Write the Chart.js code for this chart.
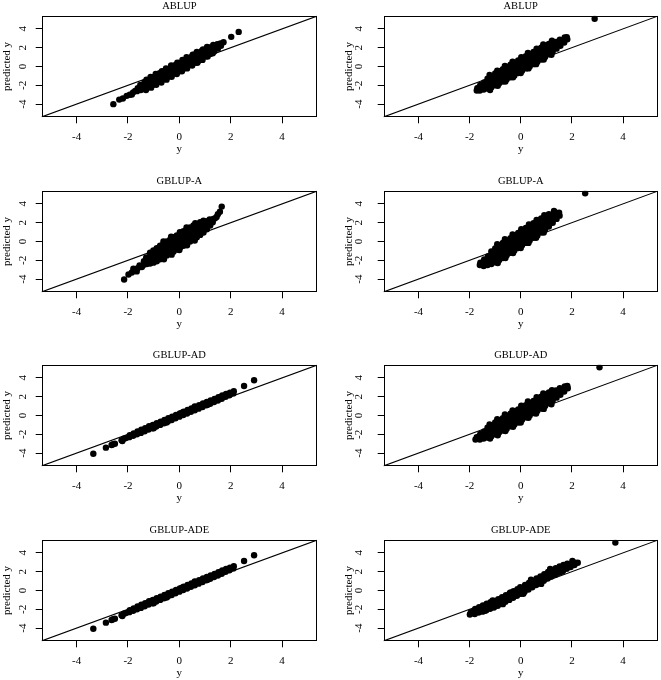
<!DOCTYPE html>
<html>
<head>
<meta charset="utf-8">
<script src="https://cdn.jsdelivr.net/npm/chart.js@4"></script>
<style>
  body { margin: 0; background: #fff; width: 661px; height: 680px; overflow: hidden; position: relative; }
  .panel { position: absolute; }
</style>
</head>
<body>
<script>
// panel titles, one per row (left and right column share them)
const titles = ['ABLUP', 'GBLUP-A', 'GBLUP-AD', 'GBLUP-ADE'];
const tickValues = [-4, -2, 0, 2, 4];
const xRange = [-5.36, 5.36];
const yRange = [-5.4, 5.4];
const refLine = [-6, 6];   // abline(0, 1)

// [y, predicted y]
const ablupLeft = [
  [-2.57,-4.0],[-2.34,-3.52],[-2.2,-3.4],[-2.05,-3.12],[-1.93,-3.0],[-1.8,-2.75],[-1.85,-2.98],[-1.72,-2.6],
  [-1.65,-2.62],[-1.62,-2.3],[-1.5,-2.5],[-1.48,-2.2],[-1.52,-1.95],[-1.35,-2.35],[-1.33,-2.0],[-1.36,-1.7],
  [-1.2,-2.18],[-1.22,-1.8],[-1.18,-1.42],[-1.05,-1.98],[-1.03,-1.55],[-1.07,-1.15],[-0.9,-1.78],[-0.92,-1.35],
  [-0.88,-0.95],[-0.75,-1.55],[-0.73,-1.12],[-0.77,-0.72],[-0.6,-1.35],[-0.62,-0.9],[-0.58,-0.5],[-0.45,-1.12],
  [-0.43,-0.7],[-0.47,-0.28],[-0.3,-0.9],[-0.32,-0.48],[-0.28,-0.05],[-0.15,-0.7],[-0.13,-0.25],[-0.17,0.15],
  [0,-0.5],[0.02,-0.05],[-0.02,0.38],[0.15,-0.25],[0.13,0.18],[0.17,0.6],[0.3,-0.05],[0.32,0.4],[0.28,0.8],
  [0.45,0.18],[0.43,0.62],[0.47,1.02],[0.6,0.4],[0.62,0.83],[0.58,1.25],[0.75,0.62],[0.73,1.05],[0.77,1.45],
  [0.9,0.85],[0.92,1.27],[0.88,1.68],[1.05,1.08],[1.03,1.48],[1.07,1.85],[1.2,1.32],[1.22,1.7],[1.18,2.02],
  [1.35,1.6],[1.37,1.92],[1.33,2.2],[1.5,1.9],[1.52,2.18],[1.48,2.38],[1.62,2.2],[1.6,2.45],
  [-1.3,-2.5],[-1.28,-1.4],[-1.1,-2.25],[-1.12,-1.1],[-0.9,-1.95],[-0.92,-0.8],[-0.7,-1.7],[-0.68,-0.5],
  [-0.5,-1.4],[-0.52,-0.2],[-0.3,-1.1],[-0.32,0.1],[-0.1,-0.8],[-0.08,0.4],[0.1,-0.5],[0.12,0.7],
  [0.3,-0.2],[0.28,0.98],[0.5,0.1],[0.52,1.25],[0.7,0.4],[0.68,1.55],[0.9,0.7],[0.92,1.82],
  [1.1,1.05],[1.08,2.08],[1.3,1.4],[1.32,2.3],
  [1.72,2.58],[2.02,3.15],[2.31,3.68]
];
const ablupRight = [
  [-1.72,-2.55],[-1.7,-2.3],[-1.6,-2.55],[-1.62,-2.2],[-1.58,-1.95],[-1.45,-2.45],[-1.47,-2.05],[-1.43,-1.7],
  [-1.3,-2.35],[-1.32,-1.95],[-1.28,-1.55],[-1.3,-1.3],[-1.15,-2.2],[-1.17,-1.8],[-1.13,-1.4],[-1.15,-1.05],
  [-1.0,-2.0],[-1.02,-1.6],[-0.98,-1.15],[-1.0,-0.75],[-0.85,-1.8],[-0.87,-1.35],[-0.83,-0.95],[-0.85,-0.5],
  [-0.7,-1.6],[-0.72,-1.15],[-0.68,-0.7],[-0.7,-0.3],[-0.55,-1.35],[-0.57,-0.9],[-0.53,-0.45],[-0.55,-0.05],
  [-0.4,-1.15],[-0.42,-0.7],[-0.38,-0.25],[-0.4,0.2],[-0.25,-0.95],[-0.27,-0.45],[-0.23,0.0],[-0.25,0.4],
  [-0.1,-0.7],[-0.12,-0.25],[-0.08,0.2],[-0.1,0.65],[0.05,-0.45],[0.03,0.0],[0.07,0.45],[0.05,0.9],
  [0.2,-0.2],[0.18,0.25],[0.22,0.7],[0.2,1.1],[0.35,0.0],[0.33,0.45],[0.37,0.9],[0.35,1.3],
  [0.5,0.25],[0.48,0.7],[0.52,1.15],[0.5,1.55],[0.65,0.5],[0.63,0.95],[0.67,1.4],[0.65,1.75],
  [0.8,0.75],[0.78,1.2],[0.82,1.6],[0.8,2.0],[0.95,1.0],[0.93,1.45],[0.97,1.85],[0.95,2.2],
  [1.1,1.3],[1.08,1.7],[1.12,2.1],[1.1,2.4],[1.25,1.6],[1.27,1.98],[1.23,2.35],[1.4,1.9],[1.42,2.25],[1.38,2.6],
  [1.55,2.2],[1.57,2.55],[1.53,2.85],[1.7,2.55],[1.68,2.85],[1.72,3.1],[1.82,2.9],[1.8,3.12],
  [-1.2,-2.5],[-1.22,-0.9],[-0.9,-2.05],[-0.92,-0.45],[-0.6,-1.6],[-0.62,0.05],[-0.3,-1.15],[-0.32,0.5],
  [0,-0.7],[0.02,1.0],[0.3,-0.2],[0.28,1.45],[0.6,0.25],[0.62,1.9],[0.9,0.75],[0.88,2.35],[1.2,1.25],[1.22,2.75],
  [2.89,5.07]
];
const gblupALeft = [
  [-2.15,-4.04],[-1.98,-3.5],[-1.85,-3.3],[-1.66,-3.18],[-1.79,-2.9],[-1.46,-2.72],[-1.55,-2.55],[-1.62,-2.85],
  [-1.4,-2.5],[-1.38,-2.1],[-1.27,-2.4],[-1.25,-2.05],[-1.29,-1.7],[-1.14,-2.35],[-1.16,-1.95],[-1.12,-1.5],[-1.14,-1.2],
  [-1.01,-2.25],[-1.03,-1.8],[-0.99,-1.35],[-1.01,-0.95],[-0.88,-2.1],[-0.9,-1.6],[-0.86,-1.15],[-0.88,-0.7],
  [-0.75,-1.9],[-0.77,-1.4],[-0.73,-0.95],[-0.75,-0.45],[-0.62,-1.7],[-0.64,-1.2],[-0.6,-0.7],[-0.62,-0.25],
  [-0.49,-1.5],[-0.51,-1.0],[-0.47,-0.5],[-0.49,0.0],[-0.36,-1.3],[-0.38,-0.8],[-0.34,-0.3],[-0.36,0.2],
  [-0.23,-1.1],[-0.25,-0.6],[-0.21,-0.1],[-0.23,0.45],[-0.1,-0.85],[-0.12,-0.35],[-0.08,0.15],[-0.1,0.65],
  [0.03,-0.65],[0.01,-0.15],[0.05,0.35],[0.03,0.9],[0.16,-0.45],[0.14,0.05],[0.18,0.55],[0.16,1.1],
  [0.29,-0.2],[0.27,0.3],[0.31,0.8],[0.29,1.3],[0.42,0.0],[0.4,0.5],[0.44,1.0],[0.42,1.5],
  [0.55,0.2],[0.53,0.7],[0.57,1.2],[0.55,1.7],[0.68,0.45],[0.66,0.95],[0.7,1.4],[0.68,1.85],
  [0.81,0.7],[0.79,1.15],[0.83,1.6],[0.81,2.05],[0.94,0.95],[0.92,1.4],[0.96,1.8],[0.94,2.2],
  [1.07,1.3],[1.05,1.75],[1.09,2.15],[1.2,1.7],[1.22,2.05],[1.18,2.35],[1.3,2.05],[1.32,2.4],
  [-0.6,-1.9],[-0.62,0.0],[-0.3,-1.4],[-0.32,0.5],[0,-0.9],[0.02,1.0],[0.3,-0.4],[0.28,1.5],[0.6,0.1],[0.62,1.95],
  [1.39,2.46],[1.45,2.6],[1.5,2.9],[1.58,3.17],[1.65,3.71]
];
const gblupARight = [
  [-1.6,-2.5],[-1.58,-2.25],[-1.45,-2.6],[-1.47,-2.2],[-1.43,-1.9],[-1.3,-2.5],[-1.32,-2.05],[-1.28,-1.6],
  [-1.15,-2.4],[-1.17,-1.9],[-1.13,-1.45],[-1.15,-1.05],[-1.0,-2.2],[-1.02,-1.7],[-0.98,-1.2],[-1.0,-0.75],
  [-0.85,-2.0],[-0.87,-1.45],[-0.83,-0.95],[-0.85,-0.45],[-0.7,-1.75],[-0.72,-1.2],[-0.68,-0.65],[-0.7,-0.15],
  [-0.55,-1.45],[-0.57,-0.95],[-0.53,-0.4],[-0.55,0.1],[-0.4,-1.2],[-0.42,-0.65],[-0.38,-0.15],[-0.4,0.35],
  [-0.25,-0.95],[-0.27,-0.4],[-0.23,0.15],[-0.25,0.65],[-0.1,-0.7],[-0.12,-0.15],[-0.08,0.4],[-0.1,0.9],
  [0.05,-0.4],[0.03,0.1],[0.07,0.65],[0.05,1.2],[0.2,-0.15],[0.18,0.4],[0.22,0.9],[0.2,1.45],
  [0.35,0.1],[0.33,0.65],[0.37,1.15],[0.35,1.7],[0.5,0.4],[0.48,0.9],[0.52,1.45],[0.5,1.95],
  [0.65,0.65],[0.63,1.15],[0.67,1.7],[0.65,2.2],[0.8,0.95],[0.78,1.45],[0.82,1.95],[0.8,2.45],
  [0.95,1.25],[0.93,1.75],[0.97,2.2],[0.95,2.65],[1.1,1.6],[1.08,2.05],[1.12,2.5],[1.1,2.9],
  [1.25,2.0],[1.27,2.45],[1.23,2.85],[1.3,3.25],[1.4,2.4],[1.42,2.75],[1.38,3.05],[1.52,2.75],[1.5,3.05],
  [-0.9,-2.28],[-0.92,-0.3],[-0.6,-1.75],[-0.62,0.25],[-0.3,-1.23],[-0.32,0.75],[0,-0.7],[0.02,1.3],
  [0.3,-0.15],[0.32,1.8],[0.6,0.4],[0.62,2.3],[0.9,0.95],[0.92,2.8],
  [2.52,5.12]
];
const gblupADLeft = [
  [-3.35,-4.06],[-2.86,-3.42],[-2.64,-3.13],[-2.51,-2.99],[-2.58,-3.05],[-2.25,-2.63],[-2.16,-2.46],[-2.22,-2.72],[-2.08,-2.4],
  [-1.95,-2.3],[-1.93,-2.1],[-1.8,-2.15],[-1.78,-1.9],[-1.65,-2.0],[-1.63,-1.7],[-1.5,-1.85],[-1.48,-1.52],
  [-1.35,-1.68],[-1.33,-1.35],[-1.2,-1.5],[-1.18,-1.15],[-1.05,-1.35],[-1.03,-1.0],[-0.9,-1.18],[-0.88,-0.82],
  [-0.75,-1.0],[-0.73,-0.65],[-0.6,-0.82],[-0.58,-0.48],[-0.45,-0.65],[-0.43,-0.3],[-0.3,-0.48],[-0.28,-0.12],
  [-0.15,-0.3],[-0.13,0.05],[0,-0.12],[0.02,0.22],[0.15,0.05],[0.17,0.4],[0.3,0.22],[0.32,0.58],
  [0.45,0.4],[0.47,0.75],[0.6,0.56],[0.62,0.92],[0.75,0.73],[0.77,1.1],[0.9,0.9],[0.92,1.27],
  [1.05,1.08],[1.07,1.44],[1.2,1.25],[1.22,1.6],[1.35,1.43],[1.37,1.77],[1.5,1.6],[1.52,1.95],
  [1.65,1.78],[1.67,2.12],[1.8,1.98],[1.82,2.28],[1.95,2.15],[1.97,2.42],[2.1,2.35],[2.12,2.58],
  [-1.0,-1.35],[-0.5,-0.75],[0.1,0.3],[0.6,0.95],[1.1,1.15],[1.6,1.95],
  [2.52,3.13],[2.91,3.74]
];
const gblupADRight = [
  [-1.77,-2.55],[-1.72,-2.3],[-1.6,-2.55],[-1.62,-2.2],[-1.58,-1.95],[-1.45,-2.45],[-1.47,-2.05],[-1.43,-1.7],
  [-1.3,-2.35],[-1.32,-1.95],[-1.28,-1.55],[-1.3,-1.3],[-1.15,-2.2],[-1.17,-1.8],[-1.13,-1.4],[-1.15,-1.05],
  [-1.0,-2.0],[-1.02,-1.6],[-0.98,-1.15],[-1.0,-0.75],[-0.85,-1.8],[-0.87,-1.35],[-0.83,-0.95],[-0.85,-0.5],
  [-0.7,-1.6],[-0.72,-1.15],[-0.68,-0.7],[-0.7,-0.3],[-0.55,-1.4],[-0.57,-0.9],[-0.53,-0.45],[-0.55,-0.05],
  [-0.4,-1.15],[-0.42,-0.7],[-0.38,-0.25],[-0.4,0.2],[-0.25,-0.95],[-0.27,-0.45],[-0.23,0.0],[-0.25,0.45],
  [-0.1,-0.75],[-0.12,-0.25],[-0.08,0.2],[-0.1,0.65],[0.05,-0.45],[0.03,0.0],[0.07,0.45],[0.05,0.9],
  [0.2,-0.2],[0.18,0.25],[0.22,0.7],[0.2,1.1],[0.35,0.0],[0.33,0.45],[0.37,0.9],[0.35,1.3],
  [0.5,0.25],[0.48,0.7],[0.52,1.15],[0.5,1.55],[0.65,0.5],[0.63,0.95],[0.67,1.4],[0.65,1.8],
  [0.8,0.75],[0.78,1.2],[0.82,1.6],[0.8,2.0],[0.95,1.0],[0.93,1.45],[0.97,1.85],[0.95,2.25],
  [1.1,1.3],[1.08,1.7],[1.12,2.1],[1.1,2.45],[1.25,1.6],[1.27,1.98],[1.23,2.35],[1.4,1.9],[1.42,2.25],[1.38,2.65],
  [1.55,2.2],[1.57,2.55],[1.53,2.9],[1.7,2.55],[1.68,2.85],[1.72,3.1],[1.84,2.9],[1.82,3.15],
  [-1.2,-2.45],[-1.22,-0.95],[-0.9,-2.1],[-0.92,-0.4],[-0.6,-1.65],[-0.62,0.1],[-0.3,-1.2],[-0.32,0.55],
  [0,-0.75],[0.02,1.05],[0.3,-0.25],[0.28,1.5],[0.6,0.2],[0.62,1.95],[0.9,0.7],[0.88,2.35],[1.2,1.2],[1.22,2.7],
  [3.08,5.12]
];
const gblupADELeft = [
  [-3.35,-4.06],[-2.86,-3.42],[-2.64,-3.13],[-2.51,-2.99],[-2.58,-3.05],[-2.25,-2.63],[-2.16,-2.46],[-2.22,-2.72],[-2.08,-2.4],
  [-1.95,-2.3],[-1.93,-2.1],[-1.8,-2.15],[-1.78,-1.9],[-1.65,-2.0],[-1.63,-1.7],[-1.5,-1.85],[-1.48,-1.52],
  [-1.35,-1.68],[-1.33,-1.35],[-1.2,-1.5],[-1.18,-1.15],[-1.05,-1.35],[-1.03,-1.0],[-0.9,-1.18],[-0.88,-0.82],
  [-0.75,-1.0],[-0.73,-0.65],[-0.6,-0.82],[-0.58,-0.48],[-0.45,-0.65],[-0.43,-0.3],[-0.3,-0.48],[-0.28,-0.12],
  [-0.15,-0.3],[-0.13,0.05],[0,-0.12],[0.02,0.22],[0.15,0.05],[0.17,0.4],[0.3,0.22],[0.32,0.58],
  [0.45,0.4],[0.47,0.75],[0.6,0.56],[0.62,0.92],[0.75,0.73],[0.77,1.1],[0.9,0.9],[0.92,1.27],
  [1.05,1.08],[1.07,1.44],[1.2,1.25],[1.22,1.6],[1.35,1.43],[1.37,1.77],[1.5,1.6],[1.52,1.95],
  [1.65,1.78],[1.67,2.12],[1.8,1.98],[1.82,2.28],[1.95,2.15],[1.97,2.42],[2.1,2.35],[2.12,2.58],
  [-1.0,-1.35],[-0.5,-0.75],[0.1,0.3],[0.6,0.95],[1.1,1.15],[1.6,1.95],
  [2.52,3.13],[2.91,3.74]
];
const gblupADERight = [
  [-1.99,-2.55],[-1.95,-2.3],[-1.8,-2.5],[-1.82,-2.2],[-1.78,-1.95],[-1.65,-2.35],[-1.67,-2.05],[-1.63,-1.78],
  [-1.5,-2.25],[-1.52,-1.9],[-1.48,-1.58],[-1.35,-2.1],[-1.37,-1.75],[-1.33,-1.4],[-1.2,-1.95],[-1.22,-1.6],[-1.18,-1.25],
  [-1.05,-1.8],[-1.07,-1.45],[-1.03,-1.1],[-0.9,-1.62],[-0.92,-1.27],[-0.88,-0.92],[-0.75,-1.42],[-0.77,-1.07],[-0.73,-0.72],
  [-0.6,-1.2],[-0.62,-0.86],[-0.58,-0.5],[-0.45,-1.0],[-0.47,-0.65],[-0.43,-0.3],[-0.3,-0.78],[-0.32,-0.43],[-0.28,-0.08],
  [-0.15,-0.57],[-0.17,-0.22],[-0.13,0.13],[0,-0.35],[0.02,0.0],[-0.02,0.35],[0.15,-0.12],[0.13,0.23],[0.17,0.58],
  [0.3,0.1],[0.28,0.46],[0.32,0.8],[0.45,0.35],[0.43,0.7],[0.47,1.05],[0.6,0.58],[0.58,0.93],[0.62,1.28],
  [0.75,0.8],[0.73,1.16],[0.77,1.5],[0.9,1.04],[0.88,1.39],[0.92,1.74],[1.05,1.27],[1.03,1.62],[1.07,1.97],
  [1.2,1.48],[1.18,1.83],[1.22,2.18],[1.35,1.68],[1.33,2.03],[1.37,2.38],[1.5,1.88],[1.48,2.22],[1.52,2.55],
  [1.65,2.08],[1.63,2.4],[1.67,2.72],[1.8,2.3],[1.78,2.57],[1.82,2.85],[1.95,2.5],[1.93,2.75],[2.02,3.15],
  [2.1,2.7],[2.12,2.95],[2.23,2.95],
  [-1.4,-2.15],[-1.1,-1.05],[-0.7,-1.45],[-0.4,-0.2],[0.1,-0.35],[0.4,1.15],[0.8,0.7],[1.15,2.3],[1.6,2.0],
  [3.7,5.09]
];

const panelData = [
  [ablupLeft, ablupRight],
  [gblupALeft, gblupARight],
  [gblupADLeft, gblupADRight],
  [gblupADELeft, gblupADERight]
];

const serif = '"Liberation Serif", "Times New Roman", serif';
const rowTops = [0, 175, 349, 524];
const colLefts = [0, 342];
const colWidths = [330, 319];

// R-like frame round the plot region and y tick labels turned parallel to the axis
const rFrame = {
  id: 'rFrame',
  afterDraw(chart, args, opts) {
    const { ctx, chartArea: a, scales } = chart;
    ctx.save();
    ctx.strokeStyle = '#000';
    ctx.lineWidth = 1;
    const l = Math.round(a.left) + 0.5, t = Math.round(a.top) + 0.5;
    const r = Math.round(a.right) - 0.5, b = Math.round(a.bottom) - 0.5;
    ctx.strokeRect(l, t, r - l, b - t);
    ctx.fillStyle = '#000';
    ctx.font = '11px ' + serif;
    ctx.textAlign = 'center';
    ctx.textBaseline = 'middle';
    scales.y.ticks.forEach(tk => {
      ctx.save();
      ctx.translate(a.left - opts.labelGap, scales.y.getPixelForValue(tk.value));
      ctx.rotate(-Math.PI / 2);
      ctx.fillText(tk.label, 0, 0);
      ctx.restore();
    });
    ctx.restore();
  }
};

function axis(range, extra) {
  return Object.assign({
    type: 'linear',
    min: range[0],
    max: range[1],
    afterBuildTicks: s => { s.ticks = tickValues.map(v => ({ value: v })); },
    border: { display: false },
    grid: { drawOnChartArea: false, drawTicks: true, tickLength: 6, color: '#000', lineWidth: 1 },
  }, extra);
}

function makePanel(row, col) {
  const div = document.createElement('div');
  div.className = 'panel';
  div.style.left = colLefts[col] + 'px';
  div.style.top = rowTops[row] + 'px';
  const canvas = document.createElement('canvas');
  canvas.width = colWidths[col];
  canvas.height = 160;
  div.appendChild(canvas);
  document.body.appendChild(div);

  const pts = panelData[row][col];
  new Chart(canvas, {
    type: 'scatter',
    data: {
      datasets: [
        {
          data: pts.map(p => ({ x: p[0], y: p[1] })),
          pointRadius: 3.2,
          pointHoverRadius: 3.2,
          pointBackgroundColor: '#000',
          pointBorderWidth: 0,
          clip: 0
        },
        {
          type: 'line',
          data: refLine.map(v => ({ x: v, y: v })),
          borderColor: '#000',
          borderWidth: 1.1,
          pointRadius: 0,
          fill: false,
          clip: 0
        }
      ]
    },
    options: {
      responsive: false,
      animation: false,
      events: [],
      layout: { padding: { left: 0, right: col ? 1 : 13, top: 0, bottom: 0 } },
      plugins: {
        legend: { display: false },
        tooltip: { enabled: false },
        title: {
          display: true,
          text: titles[row],
          fullSize: false,
          color: '#000',
          font: { family: serif, size: 10.5, weight: 'normal', lineHeight: 1.2 },
          padding: { top: 0, bottom: 3.1 }
        },
        rFrame: { labelGap: col ? 24.5 : 18.5 }
      },
      scales: {
        x: axis(xRange, {
          afterFit: s => { s.height = 42.7; },
          ticks: { color: '#000', padding: 7, maxRotation: 0, font: { family: serif, size: 11, lineHeight: 1.2 } },
          title: { display: true, text: 'y', color: '#000', font: { family: serif, size: 11, lineHeight: 1.2 }, padding: { top: 0, bottom: 4.4 } }
        }),
        y: axis(yRange, {
          afterFit: s => { s.width = 41.7; },
          ticks: { display: false },
          title: { display: true, text: 'predicted y', color: '#000', font: { family: serif, size: 11, lineHeight: 1.2 }, padding: { top: 0.4, bottom: 0 } }
        })
      }
    },
    plugins: [rFrame]
  });
}

for (let row = 0; row < 4; row++) {
  for (let col = 0; col < 2; col++) makePanel(row, col);
}
</script>
</body>
</html>
